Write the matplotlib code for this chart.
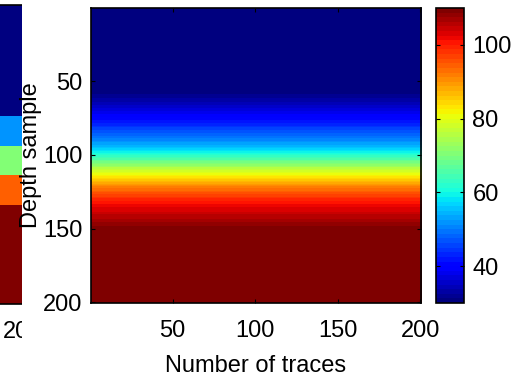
import numpy as np
import matplotlib
matplotlib.use('Agg')
import matplotlib.pyplot as plt
from matplotlib.patches import Rectangle

# velocity-like value per depth sample (same for every trace)
n_traces = 200
depth_profile = (
    [30.0] * 50
    + [30, 30, 30, 30, 30, 30.3, 30.6, 31, 31.4, 31.8]
    + [32.2, 32.7, 33.2, 33.7, 34.2, 34.8, 35.4, 36, 36.6, 37.2]
    + [37.8, 38.4, 39, 39.6, 40.2, 40.8, 41.5, 42.2, 42.9, 43.6]
    + [44.3, 45, 45.7, 46.4, 47.1, 47.8, 48.5, 49.2, 50, 50.8]
    + [51.7, 52.6, 53.6, 54.6, 55.7, 56.8, 58, 59.2, 60.5, 61.8]
    + [63.2, 64.6, 66, 67.5, 69, 70.5, 72, 73.5, 75, 76.5]
    + [78, 79.5, 81, 82.3, 83.6, 84.9, 86.1, 87.3, 88.4, 89.5]
    + [90.5, 91.5, 92.5, 93.5, 94.5, 95.5, 96.4, 97.2, 98, 98.8]
    + [99.5, 100.1, 100.7, 101.3, 101.9, 102.5, 103, 103.5, 104, 104.5]
    + [105, 105.5, 106, 106.5, 107, 107.5, 108, 108.5, 109, 109.5]
    + [110.0] * 50
)

# left (cropped) panel: layered model
layer_edges = [0.5, 74.5, 94.5, 114.5, 134.5, 200.5]
layer_values = [30, 52, 71, 94, 110]

x_ticks = [50, 100, 150, 200]
y_ticks = [50, 100, 150, 200]
cbar_ticks = [40, 60, 80, 100]
vmin, vmax = 30, 110

plt.rcParams['font.family'] = ['Liberation Sans', 'DejaVu Sans']
plt.rcParams['font.size'] = 17

W, H = 517, 379
fig = plt.figure(figsize=(W / 100, H / 100), dpi=100)


def box(l, t, r, b):
    return [l / W, 1 - b / H, (r - l) / W, (b - t) / H]


cmap = plt.get_cmap('jet', 64)

# left panel, mostly outside the figure
ax0 = fig.add_axes(box(-308, 5, 23, 304), zorder=0)
ax0.pcolormesh([0.5, 200.5], layer_edges, np.array(layer_values)[:, None],
               cmap=cmap, vmin=vmin, vmax=vmax)
ax0.set_xlim(0.5, 200.5)
ax0.set_ylim(200.5, 0.5)
ax0.set_xticks(x_ticks)
ax0.set_yticks(y_ticks)
ax0.tick_params(direction='in', length=3, pad=12)
for s in ax0.spines.values():
    s.set_linewidth(1.2)

# white strip hiding the cut edge of the left panel
fig.add_artist(Rectangle((22 / W, 0), 20 / W, 1, transform=fig.transFigure,
                         facecolor='white', edgecolor='none', zorder=0.5))

# main panel
ax = fig.add_axes(box(91, 8, 421, 303), zorder=1)
img = np.tile(np.array(depth_profile)[:, None], (1, n_traces))
im = ax.imshow(img, cmap=cmap, vmin=vmin, vmax=vmax,
               extent=(0.5, n_traces + 0.5, len(depth_profile) + 0.5, 0.5),
               aspect='auto', interpolation='nearest')
ax.set_xticks(x_ticks)
ax.set_yticks(y_ticks)
ax.tick_params(direction='in', length=3, top=True, right=True)
ax.tick_params(axis='x', pad=12)
ax.tick_params(axis='y', pad=6)
for s in ax.spines.values():
    s.set_linewidth(1.2)
ax.set_xlabel('Number of traces')
ax.xaxis.set_label_coords(0.5, -0.176)
ax.set_ylabel('Depth sample')
ax.yaxis.set_label_coords(-0.149, 0.5)

# colorbar
cax = fig.add_axes(box(436, 8, 464, 303), zorder=1)
cb = fig.colorbar(im, cax=cax, ticks=cbar_ticks)
cax.tick_params(direction='in', length=3, left=True, right=True, pad=6)
cb.outline.set_linewidth(1.2)

fig.savefig('out.png', dpi=100)
plt.close(fig)
